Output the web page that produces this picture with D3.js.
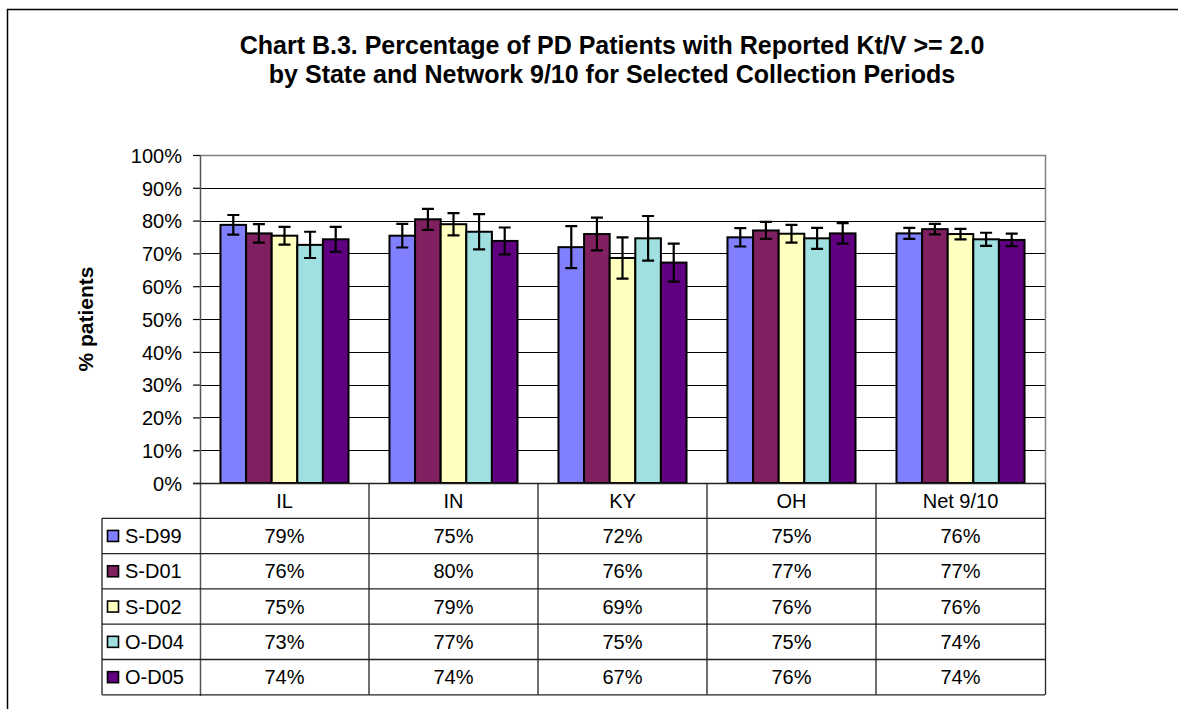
<!DOCTYPE html>
<html>
<head>
<meta charset="utf-8">
<script src="https://cdn.jsdelivr.net/npm/d3@7"></script>
<style>
  body { margin: 0; background: #fff; }
  text { font-family: "Liberation Sans", Arial, sans-serif; fill: #000; }
</style>
</head>
<body>
<div id="vis"></div>
<script>
// Frame
const FRAME_WIDTH = 1178;
const FRAME_HEIGHT = 709;
const PLOT = {left: 200, right: 1045, top: 155, bottom: 483};
const ROW_H = 35.3;
const FONT = "20px";

// Data
const categories = ["IL", "IN", "KY", "OH", "Net 9/10"];
const seriesNames = ["S-D99", "S-D01", "S-D02", "O-D04", "O-D05"];
const seriesColors = ["#8080FF", "#802060", "#FFFFC0", "#A0E0E0", "#600080"];

const sd99 = [78.7, 75.4, 71.9, 74.9, 76.1];
const sd01 = [76.1, 80.4, 75.9, 77.0, 77.4];
const sd02 = [75.4, 78.9, 68.6, 76.0, 75.9];
const od04 = [72.6, 76.6, 74.6, 74.6, 74.3];
const od05 = [74.3, 73.8, 67.2, 76.1, 74.1];

const sd99Err = [3.0, 3.6, 6.4, 2.8, 1.7];
const sd01Err = [2.8, 3.2, 5.0, 2.6, 1.6];
const sd02Err = [2.7, 3.4, 6.3, 2.7, 1.6];
const od04Err = [4.0, 5.4, 6.8, 3.2, 2.0];
const od05Err = [3.8, 4.1, 5.8, 3.1, 1.9];

const yTicks = [0, 10, 20, 30, 40, 50, 60, 70, 80, 90, 100];

const allValues = [sd99, sd01, sd02, od04, od05];
const allErrors = [sd99Err, sd01Err, sd02Err, od04Err, od05Err];

// flat table for drawing
const bars = [];
seriesNames.forEach((s, i) => {
  categories.forEach((c, j) => {
    bars.push({series: s, cat: c, value: allValues[i][j], err: allErrors[i][j], color: seriesColors[i]});
  });
});

const svg = d3.select("#vis")
  .append("svg")
    .attr("width", FRAME_WIDTH)
    .attr("height", FRAME_HEIGHT);

// outer chart border (top and left only visible)
svg.append("path")
  .attr("d", "M7.5," + FRAME_HEIGHT + " L7.5,9.5 L" + FRAME_WIDTH + ",9.5")
  .attr("fill", "none")
  .attr("stroke", "#000")
  .attr("stroke-width", 1.5);

// Scales
const X_SCALE = d3.scaleBand()
  .domain(categories)
  .range([PLOT.left, PLOT.right])
  .paddingInner(0)
  .paddingOuter(0);

const X_SUB = d3.scaleBand()
  .domain(seriesNames)
  .range([0, X_SCALE.bandwidth()])
  .paddingInner(0)
  .paddingOuter(0.8);

const Y_SCALE = d3.scaleLinear()
  .domain([0, 100])
  .range([PLOT.bottom, PLOT.top]);

// gridlines
svg.append("g")
  .selectAll("line")
  .data(yTicks.filter(d => d > 0 && d < 100))
  .enter()
  .append("line")
    .attr("x1", PLOT.left)
    .attr("x2", PLOT.right)
    .attr("y1", d => Math.round(Y_SCALE(d)) + 0.5)
    .attr("y2", d => Math.round(Y_SCALE(d)) + 0.5)
    .attr("stroke", "#000")
    .attr("stroke-width", 1);

// plot border (top, right)
svg.append("path")
  .attr("d", "M" + PLOT.left + "," + (PLOT.top + 0.5) + " L" + (PLOT.right + 0.5) + "," + (PLOT.top + 0.5) +
             " L" + (PLOT.right + 0.5) + "," + PLOT.bottom)
  .attr("fill", "none")
  .attr("stroke", "#808080")
  .attr("stroke-width", 1.5);

// bars
svg.append("g")
  .selectAll("rect")
  .data(bars)
  .enter()
  .append("rect")
    .attr("x", d => X_SCALE(d.cat) + X_SUB(d.series))
    .attr("y", d => Y_SCALE(d.value))
    .attr("width", X_SUB.bandwidth())
    .attr("height", d => Y_SCALE(0) - Y_SCALE(d.value))
    .attr("fill", d => d.color)
    .attr("stroke", "#000")
    .attr("stroke-width", 2);

// error bars
const errG = svg.append("g")
  .attr("stroke", "#000")
  .attr("stroke-width", 2.2)
  .attr("fill", "none");

errG.selectAll("path")
  .data(bars)
  .enter()
  .append("path")
    .attr("d", d => {
      const cx = X_SCALE(d.cat) + X_SUB(d.series) + X_SUB.bandwidth() / 2;
      const y1 = Y_SCALE(d.value + d.err);
      const y2 = Y_SCALE(d.value - d.err);
      const w = 6;
      return "M" + (cx - w) + "," + y1 + " H" + (cx + w) +
             " M" + cx + "," + y1 + " V" + y2 +
             " M" + (cx - w) + "," + y2 + " H" + (cx + w);
    });

// y axis
const yAxis = svg.append("g")
  .attr("transform", "translate(" + PLOT.left + ",0)")
  .call(d3.axisLeft(Y_SCALE)
          .tickValues(yTicks)
          .tickSize(7)
          .tickPadding(11)
          .tickFormat(d => d + "%"));
yAxis.select(".domain").remove();
yAxis.selectAll(".tick line").attr("stroke", "#000").attr("stroke-width", 1.2);
yAxis.selectAll("text")
  .attr("font-size", FONT)
  .attr("font-family", "Liberation Sans, Arial, sans-serif")
  .attr("dy", "0.36em");

svg.append("line")
  .attr("x1", PLOT.left + 0.5).attr("x2", PLOT.left + 0.5)
  .attr("y1", PLOT.top).attr("y2", 696)
  .attr("stroke", "#555")
  .attr("stroke-width", 1.5);

// y axis title
svg.append("text")
  .attr("transform", "translate(93," + ((PLOT.top + PLOT.bottom) / 2) + ") rotate(-90)")
  .attr("text-anchor", "middle")
  .attr("font-size", "21px")
  .attr("font-weight", "bold")
  .text("% patients");

// title
const title = svg.append("text")
  .attr("x", 612)
  .attr("text-anchor", "middle")
  .attr("font-size", "25px")
  .attr("font-weight", "bold");
title.append("tspan").attr("x", 612).attr("y", 54)
  .text("Chart B.3. Percentage of PD Patients with Reported Kt/V >= 2.0");
title.append("tspan").attr("x", 612).attr("y", 83)
  .text("by State and Network 9/10 for Selected Collection Periods");

// data table
const TABLE_LEFT = 102;
const tableBottom = PLOT.bottom + ROW_H * 6;
const tbl = svg.append("g").attr("stroke", "#222").attr("stroke-width", 1.3);

// x axis line (top of table)
tbl.append("line")
  .attr("x1", PLOT.left - 7).attr("x2", PLOT.right)
  .attr("y1", PLOT.bottom + 0.5).attr("y2", PLOT.bottom + 0.5);

// horizontal row lines
tbl.selectAll(".hrow")
  .data(d3.range(1, 7))
  .enter()
  .append("line")
    .attr("x1", TABLE_LEFT)
    .attr("x2", PLOT.right)
    .attr("y1", i => PLOT.bottom + i * ROW_H)
    .attr("y2", i => PLOT.bottom + i * ROW_H);

// vertical lines between categories
tbl.selectAll(".vcol")
  .data(categories.slice(1).concat(["__end"]))
  .enter()
  .append("line")
    .attr("x1", d => d === "__end" ? PLOT.right + 0.5 : X_SCALE(d))
    .attr("x2", d => d === "__end" ? PLOT.right + 0.5 : X_SCALE(d))
    .attr("y1", PLOT.bottom)
    .attr("y2", tableBottom);

tbl.append("line")
  .attr("x1", TABLE_LEFT).attr("x2", TABLE_LEFT)
  .attr("y1", PLOT.bottom + ROW_H).attr("y2", tableBottom);

// category header labels
svg.append("g")
  .selectAll("text")
  .data(categories)
  .enter()
  .append("text")
    .attr("x", d => X_SCALE(d) + X_SCALE.bandwidth() / 2)
    .attr("y", PLOT.bottom + ROW_H / 2)
    .attr("dy", "0.36em")
    .attr("text-anchor", "middle")
    .attr("font-size", FONT)
    .text(d => d);

// legend keys + names
const legendRows = svg.append("g")
  .selectAll("g")
  .data(seriesNames)
  .enter()
  .append("g")
    .attr("transform", (d, i) => "translate(0," + (PLOT.bottom + (i + 1) * ROW_H) + ")");

legendRows.append("rect")
  .attr("x", 107.5)
  .attr("y", ROW_H / 2 - 5.5)
  .attr("width", 11)
  .attr("height", 11)
  .attr("fill", (d, i) => seriesColors[i])
  .attr("stroke", "#000")
  .attr("stroke-width", 1.6);

legendRows.append("text")
  .attr("x", 125)
  .attr("y", ROW_H / 2)
  .attr("dy", "0.36em")
  .attr("font-size", FONT)
  .text(d => d);

// table values
svg.append("g")
  .selectAll("text")
  .data(bars)
  .enter()
  .append("text")
    .attr("x", d => X_SCALE(d.cat) + X_SCALE.bandwidth() / 2)
    .attr("y", d => PLOT.bottom + (seriesNames.indexOf(d.series) + 1.5) * ROW_H)
    .attr("dy", "0.36em")
    .attr("text-anchor", "middle")
    .attr("font-size", FONT)
    .text(d => Math.round(d.value) + "%");
</script>
</body>
</html>
